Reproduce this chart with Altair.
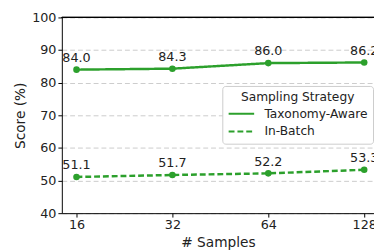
import altair as alt
import pandas as pd

samples = [16, 32, 64, 128]
taxonomy_aware = [84.0, 84.3, 86.0, 86.2]
in_batch = [51.1, 51.7, 52.2, 53.3]
strategies = ["Taxonomy-Aware", "In-Batch"]
y_ticks = [40, 50, 60, 70, 80, 90, 100]

rows = []
for s, v in zip(samples, taxonomy_aware):
    rows.append({"samples": s, "score": v, "strategy": strategies[0]})
for s, v in zip(samples, in_batch):
    rows.append({"samples": s, "score": v, "strategy": strategies[1]})
df = pd.DataFrame(rows)

GREEN = "#2ca02c"
W, H = 319, 200

x = alt.X("samples:Q", title="# Samples",
          scale=alt.Scale(type="log", base=2, domain=[14.39, 137.4], nice=False),
          axis=alt.Axis(values=samples, format="d", grid=False, labelFlush=False))
y = alt.Y("score:Q", title="Score (%)",
          scale=alt.Scale(domain=[40, 100], nice=False),
          axis=alt.Axis(values=y_ticks, grid=True, gridDash=[5, 3], gridColor="#cccccc"))

base = alt.Chart(df)

lines = base.mark_line(color=GREEN, strokeWidth=2.5, clip=True).encode(
    x=x, y=y,
    strokeDash=alt.StrokeDash("strategy:N", title="Sampling Strategy",
                              scale=alt.Scale(domain=strategies, range=[[1, 0], [6, 3]]),
                              sort=strategies,
                              legend=alt.Legend(orient="none", legendX=164, legendY=70,
                                                symbolType="stroke", symbolSize=680,
                                                clipHeight=14,
                                                symbolStrokeColor=GREEN, symbolStrokeWidth=2,
                                                fillColor="white", strokeColor="#cccccc",
                                                padding=5, cornerRadius=3,
                                                titleFontSize=12.5, labelFontSize=12.5,
                                                titleFontWeight="normal", titleAnchor="middle",
                                                titlePadding=4, rowPadding=4, labelOffset=9,
                                                labelFont="DejaVu Sans", titleFont="DejaVu Sans",
                                                labelColor="#222222", titleColor="#222222")),
)

points = base.mark_circle(color=GREEN, size=45, opacity=1, clip=True).encode(x=x, y=y)

labels = base.mark_text(dy=-12, fontSize=13, font="DejaVu Sans", color="#222222").encode(
    x=x, y=y, text=alt.Text("score:Q", format=".1f"))

top_rule = alt.Chart(df).mark_rule(color="black", strokeWidth=1).encode(
    x=alt.value(0), x2=alt.value(W), y=alt.value(0))

chart = alt.layer(lines, points, labels, top_rule).properties(
    width=W, height=H,
    autosize=alt.AutoSizeParams(type="none"),
    padding={"left": 55, "top": 7, "right": 0, "bottom": 36},
).configure_view(stroke=None).configure_axis(
    labelFont="DejaVu Sans", titleFont="DejaVu Sans",
    labelFontSize=13, titleFontSize=14, titleFontWeight="normal",
    labelColor="#222222", titleColor="#222222",
    domainColor="black", tickColor="black", tickSize=4, labelPadding=2,
)

chart.save("out.html", embed_options={"renderer": "svg", "actions": False})
